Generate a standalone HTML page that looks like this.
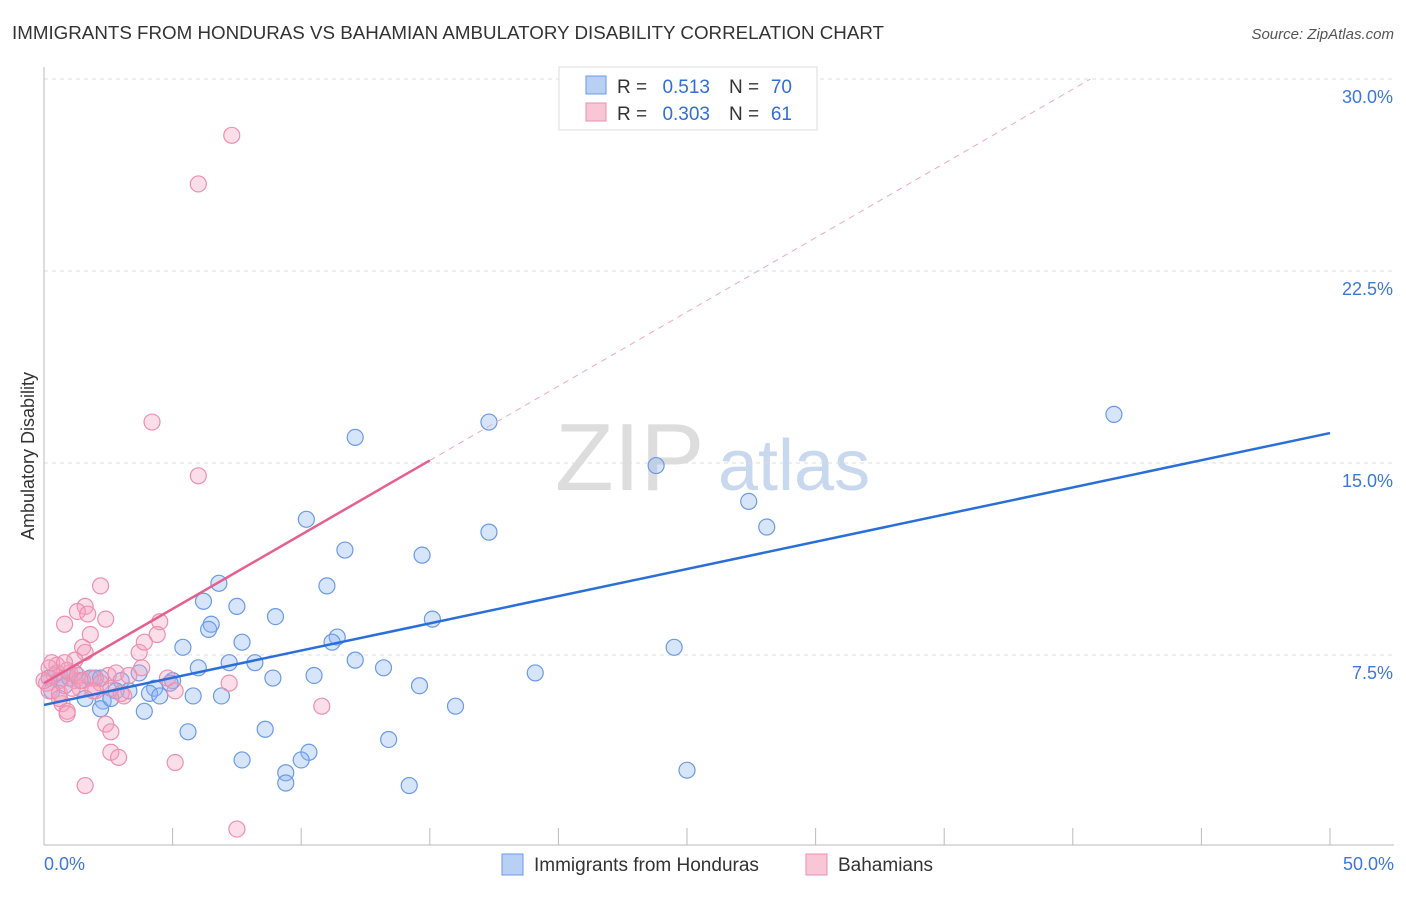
<!DOCTYPE html>
<html><head><meta charset="utf-8"><style>
body{margin:0;background:#fff;font-family:"Liberation Sans",sans-serif}
svg text{font-family:"Liberation Sans",sans-serif}
</style></head><body>
<svg width="1406" height="892" xmlns="http://www.w3.org/2000/svg" id="chart">
<text x="12" y="39" font-size="18" fill="#333" textLength="872" lengthAdjust="spacingAndGlyphs">IMMIGRANTS FROM HONDURAS VS BAHAMIAN AMBULATORY DISABILITY CORRELATION CHART</text>
<text x="1394" y="39" font-size="15" fill="#555" font-style="italic" text-anchor="end">Source: ZipAtlas.com</text>
<text x="555" y="490" font-size="96" fill="#ddd" font-family="Liberation Serif">ZIP</text>
<text x="718" y="490" font-size="72" fill="#c8d8ee">atlas</text>
<g id="grid"></g><g id="axes"></g><g id="pts"></g><g id="lines"></g>
<text x="34" y="456" font-size="18" fill="#333" text-anchor="middle" transform="rotate(-90 34 456)">Ambulatory Disability</text>
<g>
<rect x="559" y="67" width="258" height="63" fill="#fff" stroke="#ddd"/>
<rect x="586" y="76" width="20" height="18" fill="#b9d0f5" stroke="#6a9ae8"/>
<rect x="586" y="103" width="20" height="18" fill="#f9c6d6" stroke="#ee8fae"/>
<text x="617" y="93" font-size="19" fill="#333">R =</text>
<text x="710" y="93" font-size="19" fill="#2f6fd6" text-anchor="end">0.513</text>
<text x="729" y="93" font-size="19" fill="#333">N =</text>
<text x="792" y="93" font-size="19" fill="#2f6fd6" text-anchor="end">70</text>
<text x="617" y="120" font-size="19" fill="#333">R =</text>
<text x="710" y="120" font-size="19" fill="#2f6fd6" text-anchor="end">0.303</text>
<text x="729" y="120" font-size="19" fill="#333">N =</text>
<text x="792" y="120" font-size="19" fill="#2f6fd6" text-anchor="end">61</text>
</g>
<g>
<rect x="502" y="854" width="21" height="21" fill="#b9d0f5" stroke="#6a9ae8"/>
<text x="534" y="871" font-size="19" fill="#333">Immigrants from Honduras</text>
<rect x="806" y="854" width="21" height="21" fill="#f9c6d6" stroke="#ee8fae"/>
<text x="838" y="871" font-size="19" fill="#333">Bahamians</text>
</g>
</svg>
<script>
const xTicks=[0,5,10,15,20,25,30,35,40,45,50];
const yTicks=[7.5,15,22.5,30];
const blueX=[41.6,17.3,12.1,23.8,27.4,28.1,17.3,10.2,11.7,14.7,6.8,11.0,6.2,7.5,9.0,15.1,6.5,6.4,5.4,7.7,11.4,11.2,24.5,12.1,7.2,8.2,6.0,13.2,19.1,10.5,8.9,5.0,3.7,3.0,4.9,14.6,4.3,3.3,2.8,4.1,5.8,6.9,4.5,1.6,2.3,2.2,3.9,16.0,5.6,8.6,13.4,7.7,10.3,10.0,9.4,25.0,9.4,14.2,0.5,0.6,1.0,1.4,1.8,2.0,0.2,0.8,1.2,0.3,2.2,2.6];
const blueY=[16.9,16.6,16.0,14.9,13.5,12.5,12.3,12.8,11.6,11.4,10.3,10.2,9.6,9.4,9.0,8.9,8.7,8.5,7.8,8.0,8.2,8.0,7.8,7.3,7.2,7.2,7.0,7.0,6.8,6.7,6.6,6.5,6.8,6.5,6.4,6.3,6.2,6.1,6.1,6.0,5.9,5.9,5.9,5.8,5.7,5.4,5.3,5.5,4.5,4.6,4.2,3.4,3.7,3.4,2.9,3.0,2.5,2.4,6.8,6.5,6.6,6.5,6.6,6.6,6.6,6.3,6.8,6.1,6.6,5.8];
const pinkX=[7.3,6.0,4.2,6.0,2.2,1.6,1.3,1.7,2.4,0.8,4.5,1.8,4.4,1.5,1.6,3.7,3.9,1.2,0.5,3.8,2.5,2.8,3.3,4.8,7.2,5.1,2.0,3.1,0.7,0.9,0.9,10.8,2.4,2.6,2.6,2.9,5.1,1.6,7.5,0.2,0.4,0.6,0.1,1.0,1.2,1.4,0.2,0.6,1.1,1.9,2.2,0.3,0.9,1.3,1.5,1.9,0.6,0,0.8,2.6,3.0];
const pinkY=[27.8,25.9,16.6,14.5,10.2,9.4,9.2,9.1,8.9,8.7,8.8,8.3,8.3,7.8,7.6,7.6,8.0,7.3,7.1,7.0,6.7,6.8,6.7,6.6,6.4,6.1,6.1,5.9,5.6,5.3,5.2,5.5,4.8,4.5,3.7,3.5,3.3,2.4,0.7,7.0,6.7,6.5,6.4,6.8,6.5,6.2,6.1,6.0,6.2,6.6,6.4,7.2,6.9,6.7,6.5,6.1,5.8,6.5,7.2,6.2,6.0];
const blueLine=[5.55,16.17];
const pinkLine=[6.4,15.1];
const pinkEnd=15;
const NS='http://www.w3.org/2000/svg';
const X=v=>44+v*25.72, Y=v=>847-v*25.6;
function mk(t,a,p){const e=document.createElementNS(NS,t);for(const k in a)e.setAttribute(k,a[k]);document.getElementById(p).appendChild(e);return e;}
yTicks.forEach(t=>{
 const l=mk('line',{x1:44,x2:1394,y1:Y(t),y2:Y(t),stroke:'#ddd','stroke-dasharray':'4 4'},'grid');
 
 
 const tx=mk('text',{x:1393,y:Y(t)+24,'font-size':18,fill:'#3b78d8','text-anchor':'end'},'axes');
 tx.textContent=t.toFixed(1)+'%';
 
 
});
mk('line',{x1:44,x2:44,y1:67,y2:845,stroke:'#bbb'},'axes');
mk('line',{x1:44,x2:1394,y1:845,y2:845,stroke:'#bbb'},'axes');
xTicks.forEach(t=>{
 const l=mk('line',{x1:X(t),x2:X(t),y1:828,y2:845,stroke:'#bbb'},'axes');
 
 
});
[[0,'0.0%','start',44],[50,'50.0%','end',1394]].forEach(d=>{
 const tx=mk('text',{x:d[3],y:870,'font-size':18,fill:'#3b78d8','text-anchor':d[2]},'axes');
 tx.textContent=d[1];
 
 
});
blueX.forEach((v,i)=>{
 const c=mk('circle',{cx:X(v),cy:Y(blueY[i]),r:8,fill:'rgba(140,180,240,0.35)',stroke:'#6a9ae8','stroke-width':1.2},'pts');
 
 
});
pinkX.forEach((v,i)=>{
 const c=mk('circle',{cx:X(v),cy:Y(pinkY[i]),r:8,fill:'rgba(245,160,190,0.35)',stroke:'#ee8fae','stroke-width':1.2},'pts');
 
 
});
const bl=mk('line',{x1:X(0),y1:Y(blueLine[0]),x2:X(50),y2:Y(blueLine[1]),stroke:'#2a6fd8','stroke-width':2.5},'lines');


const slope=(pinkLine[1]-pinkLine[0])/pinkEnd;
const xEnd=(30-pinkLine[0])/slope;
const pd=mk('line',{x1:X(pinkEnd),y1:Y(pinkLine[1]),x2:X(xEnd),y2:Y(30),stroke:'#eeaabf','stroke-width':1,'stroke-dasharray':'6 5'},'lines');


const pl=mk('line',{x1:X(0),y1:Y(pinkLine[0]),x2:X(pinkEnd),y2:Y(pinkLine[1]),stroke:'#e5608e','stroke-width':2.5},'lines');


</script>
</body></html>
